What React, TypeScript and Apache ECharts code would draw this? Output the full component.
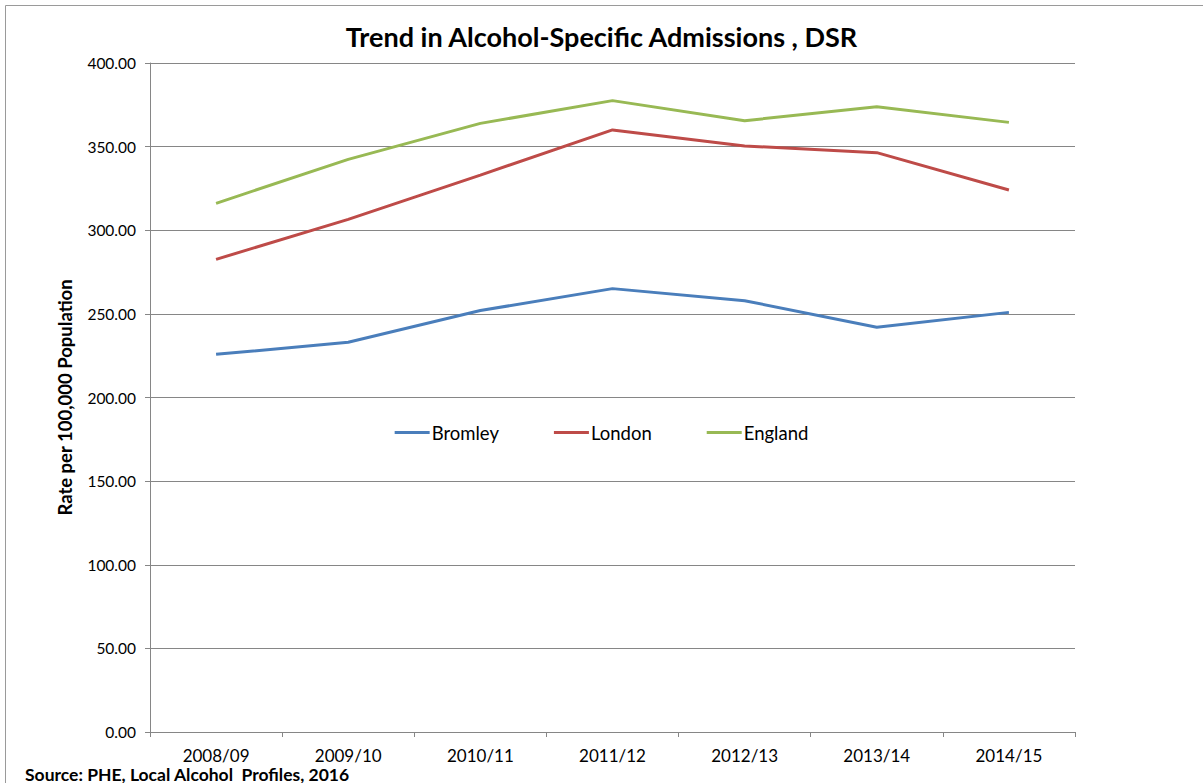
import React, { useEffect, useRef } from "react";
import * as echarts from "echarts";

const categories = ["2008/09", "2009/10", "2010/11", "2011/12", "2012/13", "2013/14", "2014/15"];
const bromley = [225.8, 233.0, 252.0, 265.1, 257.9, 242.0, 250.9];
const london = [282.6, 306.5, 333.0, 360.0, 350.4, 346.4, 324.1];
const england = [316.1, 342.4, 363.9, 377.5, 365.5, 373.9, 364.5];

const FONT = "Lato, 'Open Sans', sans-serif";

export default function App() {
  const ref = useRef<HTMLDivElement>(null);
  useEffect(() => {
    document.body.style.margin = "0";
    const chart = echarts.init(ref.current!, null, { renderer: "svg" });
    const mk = (name: string, data: number[], color: string) => ({
      name,
      type: "line",
      data,
      symbol: "none",
      lineStyle: { color, width: 3 },
      itemStyle: { color },
    });
    chart.setOption({
      animation: false,
      backgroundColor: "#ffffff",
      textStyle: { fontFamily: FONT },
      title: {
        text: "Trend in Alcohol-Specific Admissions , DSR",
        left: "center",
        top: 18,
        textStyle: { fontFamily: FONT, fontWeight: "bold", fontSize: 27, color: "#000" },
      },
      legend: {
        left: "center",
        top: 418,
        itemWidth: 35,
        itemHeight: 3,
        itemGap: 55,
        icon: "rect",
        textStyle: { fontFamily: FONT, fontSize: 18.5, color: "#000", padding: [0, 0, 0, -3] },
        data: ["Bromley", "London", "England"],
      },
      grid: { left: 150, right: 128, top: 63, bottom: 51, containLabel: false },
      xAxis: {
        type: "category",
        data: categories,
        boundaryGap: true,
        axisLine: { lineStyle: { color: "#868686", width: 1 } },
        axisTick: { show: true, length: 5, lineStyle: { color: "#868686" } },
        axisLabel: { color: "#000", fontSize: 17, lineHeight: 14, margin: 16, fontFamily: FONT },
        splitLine: { show: false },
      },
      yAxis: {
        type: "value",
        min: 0,
        max: 400,
        interval: 50,
        name: "Rate per 100,000 Population",
        nameLocation: "middle",
        nameRotate: 90,
        nameGap: 76,
        nameTextStyle: { fontFamily: FONT, fontWeight: "bold", fontSize: 18.5, color: "#000" },
        axisLine: { show: true, lineStyle: { color: "#868686", width: 1 } },
        axisTick: { show: true, length: 5, lineStyle: { color: "#868686" } },
        axisLabel: {
          color: "#000",
          fontSize: 15.5,
          margin: 14,
          fontFamily: FONT,
          formatter: (v: number) => v.toFixed(2),
        },
        splitLine: { show: true, lineStyle: { color: "#868686", width: 1 } },
      },
      series: [
        mk("Bromley", bromley, "#4A7EBB"),
        mk("London", london, "#BE4B48"),
        mk("England", england, "#98B954"),
      ],
      graphic: [
        {
          type: "rect",
          shape: { x: 5.5, y: 5.5, width: 1220, height: 800 },
          style: { fill: "none", stroke: "#9a9a9a", lineWidth: 1 },
          silent: true,
        },
        {
          type: "text",
          left: 25,
          top: 765,
          style: {
            text: "Source: PHE, Local Alcohol  Profiles, 2016",
            font: "bold 17.5px " + FONT,
            lineHeight: 14,
            fill: "#000",
          },
        },
      ],
    });
    return () => chart.dispose();
  }, []);
  return <div ref={ref} style={{ width: 1203, height: 783, position: "absolute", left: 0, top: 0 }} />;
}
